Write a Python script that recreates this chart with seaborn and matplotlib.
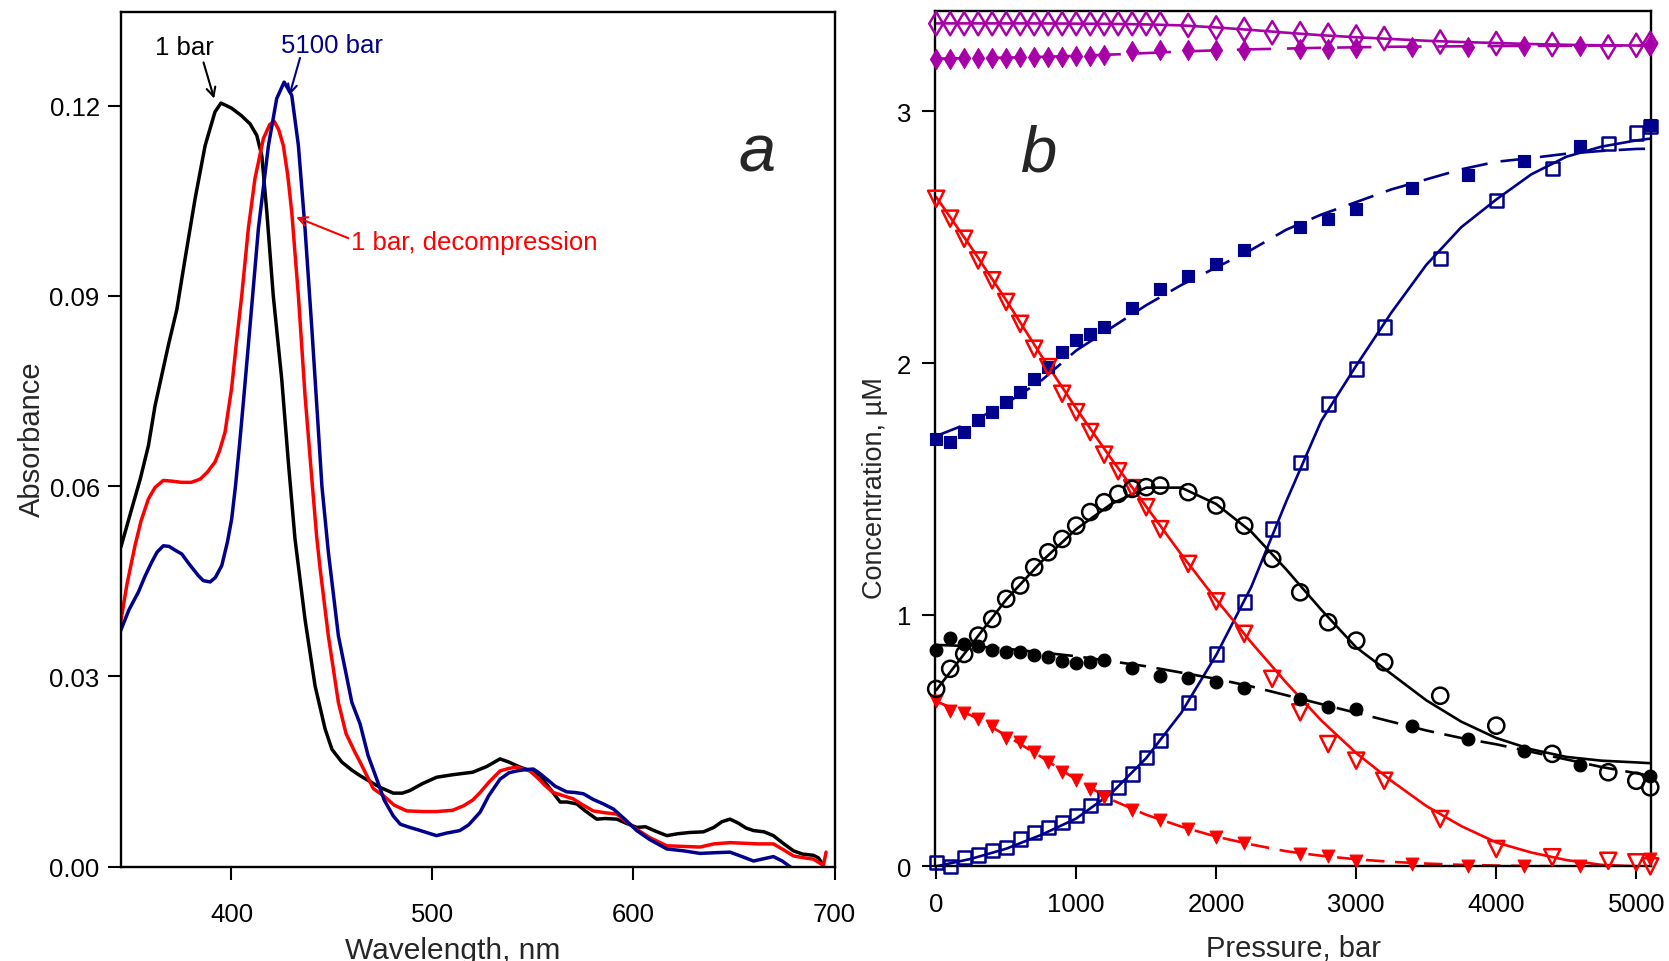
import matplotlib
matplotlib.use("Agg")
import matplotlib.pyplot as plt
import seaborn as sns
from matplotlib.ticker import FormatStrFormatter

# ---- panel a: absorbance spectra ----
wl_1bar = [345, 350, 354.6, 358.7, 362, 368.6, 372.8, 376.9, 381.9, 386.9, 391.8, 394.8,
           400, 405, 409.3, 412.6, 415.1, 417.6, 420.8, 425, 428.3, 431.6, 436.6, 441.6,
           446.6, 450, 454.9, 460, 464, 468, 474, 480.5, 485, 488.7, 495, 502, 510, 520,
           527, 533.6, 538, 543.6, 548, 553.5, 558, 563.5, 567, 571.8, 576, 581.7, 586,
           591.7, 596, 601.6, 606, 611, 616.6, 622, 628, 634.8, 640, 644, 648, 652, 656,
           659.7, 665, 669.6, 674, 679.6, 684, 689.5, 692, 694.5]
abs_1bar = [0.0504, 0.056, 0.0611, 0.0664, 0.0727, 0.0822, 0.0878, 0.0958, 0.1053, 0.1137,
            0.119, 0.1204, 0.1196, 0.1184, 0.1171, 0.1153, 0.1121, 0.1032, 0.09, 0.0769,
            0.0638, 0.0517, 0.039, 0.0285, 0.0217, 0.0185, 0.0165, 0.0152, 0.01435, 0.0136,
            0.0125, 0.0116, 0.0116, 0.012, 0.0131, 0.0141, 0.0145, 0.0149, 0.0158, 0.017,
            0.0165, 0.0157, 0.0152, 0.01435, 0.0125, 0.0102, 0.0102, 0.0099, 0.0088, 0.0075,
            0.0076, 0.0075, 0.0069, 0.0062, 0.0063, 0.0056, 0.0049, 0.0052, 0.0054, 0.0055,
            0.0062, 0.0071, 0.0075, 0.0069, 0.0061, 0.0057, 0.0055, 0.0049, 0.0038, 0.0025,
            0.002, 0.0018, 0.0014, 0.0002]

wl_5100 = [344.6, 349, 353.7, 357, 360.3, 363, 366.1, 369, 372, 375.3, 379, 383.5, 386,
           389.4, 392, 395.2, 398, 400.1, 402, 404, 406, 408.4, 410.8, 413.4, 418.4, 422.5,
           426.2, 430, 433.3, 436.6, 440, 443.2, 445, 448.2, 453.2, 459.9, 464, 468, 472.3,
           476, 480.5, 484, 488.7, 493, 497, 502, 507, 513.6, 518, 523.7, 528, 533.6, 538,
           541.9, 546, 550.2, 553, 556.9, 561, 566.8, 571, 575.1, 580, 585, 590, 596,
           601.6, 608, 616.6, 625, 633.1, 640, 648, 654, 659.7, 664, 669.6, 674, 677.9, 680]
abs_5100 = [0.037, 0.0405, 0.0433, 0.0458, 0.048, 0.0496, 0.0506, 0.0505, 0.0499, 0.0493,
            0.0477, 0.0459, 0.0451, 0.0449, 0.0456, 0.0475, 0.0512, 0.0548, 0.06, 0.0665,
            0.0735, 0.0822, 0.091, 0.1006, 0.1137, 0.1211, 0.1237, 0.1216, 0.1137, 0.1006,
            0.0848, 0.069, 0.06, 0.0496, 0.0364, 0.0259, 0.0225, 0.0175, 0.0138, 0.0105,
            0.008, 0.0067, 0.0062, 0.0058, 0.0054, 0.0049, 0.0053, 0.0057, 0.0066, 0.0086,
            0.0112, 0.0138, 0.0148, 0.0151, 0.0153, 0.0154, 0.0148, 0.0138, 0.0127, 0.0118,
            0.0117, 0.0115, 0.0106, 0.0099, 0.0091, 0.0074, 0.0057, 0.0043, 0.0028, 0.0025,
            0.0021, 0.0022, 0.0023, 0.0016, 0.0009, 0.0012, 0.0016, 0.0009, 0.0, -0.0005]

wl_decomp = [344.6, 348, 352, 355, 358.7, 362, 366.1, 370, 375.3, 380, 384.4, 388, 391.8,
             394, 396.8, 400.1, 402.6, 405.1, 408.4, 411.7, 415.9, 419, 421.3, 423.5, 425.8,
             428, 430, 433.3, 436.6, 440, 442.4, 444.1, 448.2, 453.2, 457, 461.5, 464,
             470.6, 475.6, 481, 487.2, 495, 502, 510, 515.4, 520, 523.7, 528, 533.6, 538,
             541.9, 548.5, 553, 556, 560.1, 565, 570, 575, 580, 586, 591.7, 596, 601.6,
             608, 616.6, 625, 633.1, 640, 648, 655, 662, 669.6, 675, 679.6, 685, 689.5,
             694.5, 695.8]
abs_decomp = [0.038, 0.0445, 0.0506, 0.0545, 0.058, 0.0598, 0.0609, 0.0608, 0.0606, 0.0606,
              0.0611, 0.0622, 0.0638, 0.0655, 0.0685, 0.0755, 0.083, 0.09, 0.1006, 0.1085,
              0.1148, 0.117, 0.1175, 0.1162, 0.1137, 0.109, 0.1032, 0.09, 0.0743, 0.0611,
              0.052, 0.047, 0.0364, 0.0259, 0.021, 0.018, 0.0165, 0.0123, 0.0112, 0.0097,
              0.0088, 0.0087, 0.0087, 0.0089, 0.0096, 0.0105, 0.0117, 0.0133, 0.0151, 0.0155,
              0.0157, 0.0151, 0.0138, 0.0128, 0.0117, 0.0112, 0.0107, 0.0097, 0.0088, 0.0085,
              0.0083, 0.0072, 0.0059, 0.0046, 0.0033, 0.0032, 0.0031, 0.0036, 0.0038, 0.0037,
              0.0036, 0.0036, 0.0026, 0.0017, 0.0014, 0.0012, 0.0002, 0.0023]

# ---- panel b: concentrations vs pressure ----
p_open = [0, 100, 200, 300, 400, 500, 600, 700, 800, 900, 1000, 1100, 1200, 1300, 1400,
          1500, 1600, 1800, 2000, 2200, 2400, 2600, 2800, 3000, 3200, 3600, 4000, 4400,
          4800, 5000, 5100]
p_filled = [0, 100, 200, 300, 400, 500, 600, 700, 800, 900, 1000, 1100, 1200, 1400, 1600,
            1800, 2000, 2200, 2600, 2800, 3000, 3400, 3800, 4200, 4600, 5100]

circ_open = [0.705, 0.785, 0.844, 0.917, 0.983, 1.063, 1.116, 1.189, 1.248, 1.301, 1.354,
             1.408, 1.447, 1.48, 1.5, 1.507, 1.513, 1.487, 1.434, 1.354, 1.222, 1.089, 0.97,
             0.897, 0.811, 0.678, 0.559, 0.447, 0.374, 0.34, 0.314]
tri_open = [2.653, 2.574, 2.494, 2.408, 2.329, 2.243, 2.156, 2.057, 1.984, 1.878, 1.805,
            1.726, 1.636, 1.57, 1.503, 1.427, 1.34, 1.202, 1.053, 0.924, 0.745, 0.612, 0.486,
            0.42, 0.34, 0.188, 0.069, 0.036, 0.022, 0.016, 0.0]
sq_open = [0.016, 0.0, 0.036, 0.045, 0.062, 0.076, 0.109, 0.135, 0.155, 0.175, 0.201, 0.241,
           0.274, 0.314, 0.367, 0.433, 0.499, 0.652, 0.844, 1.05, 1.341, 1.606, 1.838, 1.977,
           2.143, 2.415, 2.645, 2.773, 2.874, 2.915, 2.94]
dia_open = [3.349, 3.349, 3.349, 3.349, 3.349, 3.349, 3.349, 3.349, 3.349, 3.349, 3.349,
            3.349, 3.349, 3.349, 3.349, 3.349, 3.349, 3.342, 3.332, 3.326, 3.313, 3.309,
            3.303, 3.296, 3.29, 3.276, 3.27, 3.266, 3.256, 3.263, 3.27]

circ_filled = [0.859, 0.907, 0.884, 0.876, 0.86, 0.851, 0.85, 0.838, 0.833, 0.818, 0.808,
               0.814, 0.82, 0.788, 0.758, 0.75, 0.732, 0.708, 0.665, 0.632, 0.625, 0.559,
               0.506, 0.46, 0.404, 0.36]
tri_filled = [0.659, 0.618, 0.609, 0.586, 0.559, 0.51, 0.493, 0.455, 0.414, 0.374, 0.343,
              0.307, 0.277, 0.225, 0.185, 0.148, 0.118, 0.092, 0.049, 0.042, 0.022, 0.009,
              0.002, 0.002, 0.0, 0.03]
sq_filled = [1.699, 1.686, 1.726, 1.772, 1.805, 1.845, 1.885, 1.938, 1.984, 2.044, 2.09,
             2.117, 2.143, 2.219, 2.295, 2.348, 2.395, 2.448, 2.541, 2.574, 2.614, 2.696,
             2.749, 2.802, 2.864, 2.948]
dia_filled = [3.21, 3.21, 3.211, 3.212, 3.213, 3.214, 3.215, 3.216, 3.217, 3.218, 3.219,
              3.221, 3.223, 3.239, 3.243, 3.243, 3.246, 3.246, 3.248, 3.248, 3.252, 3.256,
              3.256, 3.26, 3.26, 3.263]

# fitted curves, read at fixed pressures
p_fit = [0, 250, 500, 750, 1000, 1250, 1500, 1750, 2000, 2250, 2500, 2750, 3000, 3250,
         3500, 3750, 4000, 4250, 4500, 4750, 5000, 5100]
fit_circ_open = [0.70, 0.88, 1.06, 1.21, 1.34, 1.44, 1.505, 1.505, 1.44, 1.33, 1.18, 1.02,
                 0.87, 0.765, 0.66, 0.575, 0.51, 0.465, 0.435, 0.42, 0.413, 0.41]
fit_circ_filled = [0.88, 0.875, 0.865, 0.85, 0.835, 0.815, 0.795, 0.77, 0.745, 0.715, 0.68,
                   0.645, 0.61, 0.575, 0.54, 0.51, 0.485, 0.455, 0.425, 0.395, 0.37, 0.36]
fit_tri_open = [2.66, 2.46, 2.25, 2.03, 1.82, 1.62, 1.43, 1.24, 1.06, 0.89, 0.73, 0.58, 0.45,
                0.34, 0.24, 0.16, 0.095, 0.055, 0.025, 0.006, 0.0, 0.0]
fit_tri_filled = [0.655, 0.60, 0.52, 0.435, 0.345, 0.265, 0.205, 0.158, 0.118, 0.087, 0.06,
                  0.042, 0.028, 0.018, 0.011, 0.006, 0.003, 0.001, 0.0, 0.0, 0.0, 0.0]
fit_sq_open = [0.0, 0.03, 0.07, 0.125, 0.19, 0.29, 0.43, 0.61, 0.84, 1.11, 1.45, 1.77, 1.99,
               2.2, 2.39, 2.54, 2.65, 2.75, 2.82, 2.86, 2.885, 2.892]
fit_sq_filled = [1.71, 1.765, 1.84, 1.93, 2.05, 2.14, 2.23, 2.31, 2.38, 2.45, 2.53, 2.59,
                 2.64, 2.69, 2.73, 2.77, 2.80, 2.815, 2.832, 2.843, 2.851, 2.852]
fit_dia_open = [3.35, 3.35, 3.35, 3.35, 3.349, 3.348, 3.346, 3.342, 3.334, 3.324, 3.313,
                3.303, 3.295, 3.288, 3.281, 3.276, 3.272, 3.268, 3.265, 3.263, 3.262, 3.262]
fit_dia_filled = [3.21, 3.212, 3.214, 3.217, 3.221, 3.226, 3.232, 3.238, 3.243, 3.247, 3.25,
                  3.253, 3.255, 3.257, 3.258, 3.259, 3.26, 3.261, 3.261, 3.262, 3.262, 3.262]

BLACK = "#000000"
RED = "#ff0000"
NAVY = "#00008c"
MAGENTA = "#a800a8"


def style_axes(ax):
    for sp in ax.spines.values():
        sp.set_visible(True)
        sp.set_linewidth(1.7)
        sp.set_color("black")
    ax.tick_params(direction="out", length=9.5, width=1.5, labelsize=18.5,
                   colors="black", top=False, right=False)


def points(ax, x, y, marker, color, size, hollow):
    if hollow:
        sns.scatterplot(x=x, y=y, ax=ax, marker=marker, s=size, color=color,
                        facecolors="none", edgecolor=color, linewidth=1.8,
                        clip_on=False, zorder=4)
    else:
        sns.scatterplot(x=x, y=y, ax=ax, marker=marker, s=size, color=color,
                        edgecolor=color, linewidth=0.8, clip_on=False, zorder=4)


def fit(ax, y, color, dashes=None):
    ls = "-" if dashes is None else (0, dashes)
    sns.lineplot(x=p_fit, y=y, ax=ax, color=color, lw=1.9, linestyle=ls,
                 estimator=None, sort=False, zorder=2)


def main():
    sns.set_theme(style="ticks")
    plt.rcParams['font.family'] = ['Liberation Sans', 'DejaVu Sans']
    plt.rcParams['axes.facecolor'] = 'white'

    fig = plt.figure(figsize=(16.69, 9.62), dpi=100)
    ax_a = fig.add_axes([0.0722, 0.0980, 0.4278, 0.8888])
    ax_b = fig.add_axes([0.5605, 0.0984, 0.4287, 0.8888])

    # panel a
    sns.lineplot(x=wl_1bar, y=abs_1bar, ax=ax_a, color=BLACK, lw=2.5, estimator=None, sort=False)
    sns.lineplot(x=wl_decomp, y=abs_decomp, ax=ax_a, color=RED, lw=2.5, estimator=None, sort=False)
    sns.lineplot(x=wl_5100, y=abs_5100, ax=ax_a, color=NAVY, lw=2.5, estimator=None, sort=False)

    ax_a.set_xlim(344.8, 700)
    ax_a.set_ylim(0, 0.1348)
    ax_a.set_xticks([400, 500, 600, 700])
    ax_a.set_yticks([0, 0.03, 0.06, 0.09, 0.12])
    ax_a.yaxis.set_major_formatter(FormatStrFormatter('%.2f'))
    style_axes(ax_a)
    ax_a.tick_params(axis="x", pad=16)
    ax_a.tick_params(axis="y", pad=5.5)

    ax_a.set_xlabel("Wavelength, nm", fontsize=21.5)
    ax_a.xaxis.set_label_coords(0.4657, -0.081)
    ax_a.set_ylabel("Absorbance", fontsize=21)
    ax_a.yaxis.set_label_coords(-0.104, 0.5014)

    arrow = dict(arrowstyle="->", lw=1.5, shrinkA=0, shrinkB=0, mutation_scale=16)
    ax_a.text(362.1, 0.1281, "1 bar", fontsize=18.5, color=BLACK, ha="left", va="baseline")
    ax_a.annotate("", xy=(391.4, 0.1211), xytext=(386.1, 0.1268),
                  arrowprops=dict(arrow, color=BLACK))
    ax_a.text(424.8, 0.1284, "5100 bar", fontsize=18.5, color=NAVY, ha="left", va="baseline")
    ax_a.annotate("", xy=(428.8, 0.1216), xytext=(434.1, 0.1275),
                  arrowprops=dict(arrow, color=NAVY))
    ax_a.text(459.4, 0.0974, "1 bar, decompression", fontsize=18.5, color=RED,
              ha="left", va="baseline")
    ax_a.annotate("", xy=(432.2, 0.1024), xytext=(458.1, 0.0991),
                  arrowprops=dict(arrow, color=RED))
    ax_a.text(0.866, 0.8137, "a", transform=ax_a.transAxes, fontsize=48,
              style="italic", ha="left", va="baseline")

    # panel b: fitted curves first, markers on top
    fit(ax_b, fit_dia_open, MAGENTA)
    fit(ax_b, fit_dia_filled, MAGENTA, (13, 6))
    fit(ax_b, fit_sq_open, NAVY)
    fit(ax_b, fit_sq_filled, NAVY, (10, 5))
    fit(ax_b, fit_tri_open, RED)
    fit(ax_b, fit_tri_filled, RED, (7, 4))
    fit(ax_b, fit_circ_open, BLACK)
    fit(ax_b, fit_circ_filled, BLACK, (10, 4))

    points(ax_b, p_open, dia_open, "d", MAGENTA, 140, True)
    points(ax_b, p_filled, dia_filled, "d", MAGENTA, 105, False)
    points(ax_b, p_open, sq_open, "s", NAVY, 92, True)
    points(ax_b, p_filled, sq_filled, "s", NAVY, 80, False)
    points(ax_b, p_open, tri_open, "v", RED, 135, True)
    points(ax_b, p_filled, tri_filled, "v", RED, 85, False)
    points(ax_b, p_open, circ_open, "o", BLACK, 135, True)
    points(ax_b, p_filled, circ_filled, "o", BLACK, 85, False)

    ax_b.set_xlim(-5, 5105)
    ax_b.set_ylim(0, 3.398)
    ax_b.set_xticks([0, 1000, 2000, 3000, 4000, 5000])
    ax_b.set_yticks([0, 1, 2, 3])
    style_axes(ax_b)
    ax_b.tick_params(axis="x", pad=9)
    ax_b.tick_params(axis="y", pad=8)

    ax_b.set_xlabel("Pressure, bar", fontsize=21)
    ax_b.xaxis.set_label_coords(0.5003, -0.0792)
    ax_b.set_ylabel("Concentration, \u00b5M", fontsize=19.5)
    ax_b.yaxis.set_label_coords(-0.067, 0.444)
    ax_b.text(0.118, 0.8137, "b", transform=ax_b.transAxes, fontsize=47,
              style="italic", ha="left", va="baseline")

    fig.savefig("out.png", dpi=100, facecolor="white")
    plt.close(fig)


if __name__ == "__main__":
    main()
